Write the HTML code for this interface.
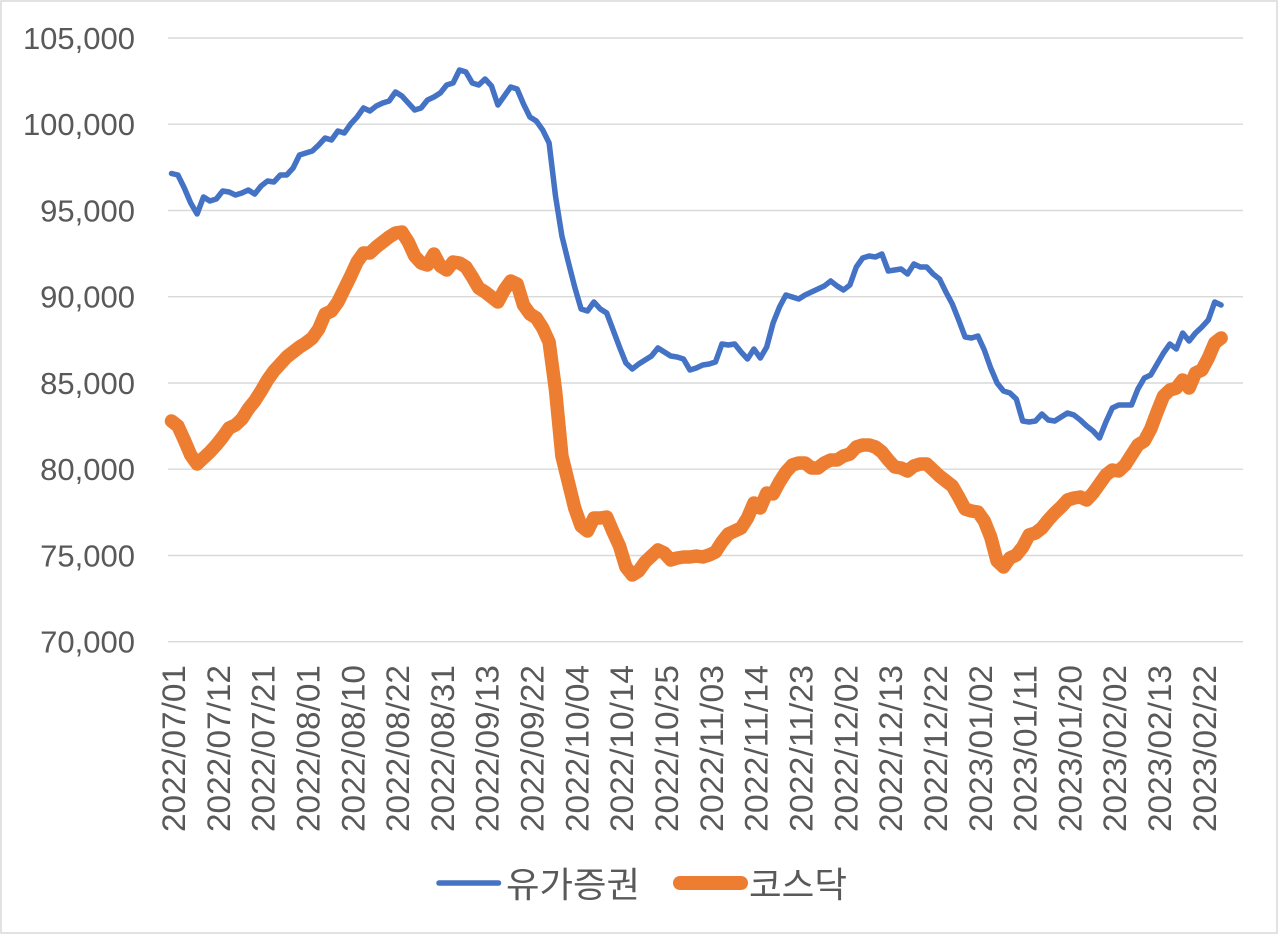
<!DOCTYPE html>
<html><head><meta charset="utf-8"><style>
html,body{margin:0;padding:0;background:#fff;}
svg{display:block;}
</style></head><body>
<svg width="1280" height="935" viewBox="0 0 1280 935" xmlns="http://www.w3.org/2000/svg">
<rect x="0" y="0" width="1280" height="935" fill="#fff"/>
<rect x="1" y="1" width="1276" height="932" fill="none" stroke="#d9d9d9" stroke-width="1.5"/>
<g stroke="#d9d9d9" stroke-width="1.4">
<line x1="168" x2="1243" y1="38" y2="38"/>
<line x1="168" x2="1243" y1="124.2" y2="124.2"/>
<line x1="168" x2="1243" y1="210.5" y2="210.5"/>
<line x1="168" x2="1243" y1="296.7" y2="296.7"/>
<line x1="168" x2="1243" y1="383" y2="383"/>
<line x1="168" x2="1243" y1="469.2" y2="469.2"/>
<line x1="168" x2="1243" y1="555.5" y2="555.5"/>
<line x1="168" x2="1243" y1="641.7" y2="641.7"/>
</g>
<g font-family="Liberation Sans, sans-serif" font-size="31" fill="#595959" text-anchor="end">
<text x="135" y="48.8">105,000</text>
<text x="135" y="135">100,000</text>
<text x="135" y="221.3">95,000</text>
<text x="135" y="307.5">90,000</text>
<text x="135" y="393.8">85,000</text>
<text x="135" y="480">80,000</text>
<text x="135" y="566.3">75,000</text>
<text x="135" y="652.5">70,000</text>
</g>
<g font-family="Liberation Sans, sans-serif" font-size="32.5" fill="#595959">
<text transform="translate(185,832) rotate(-90)" textLength="167" lengthAdjust="spacingAndGlyphs">2022/07/01</text>
<text transform="translate(229.8,832) rotate(-90)" textLength="167" lengthAdjust="spacingAndGlyphs">2022/07/12</text>
<text transform="translate(274.6,832) rotate(-90)" textLength="167" lengthAdjust="spacingAndGlyphs">2022/07/21</text>
<text transform="translate(319.5,832) rotate(-90)" textLength="167" lengthAdjust="spacingAndGlyphs">2022/08/01</text>
<text transform="translate(364.3,832) rotate(-90)" textLength="167" lengthAdjust="spacingAndGlyphs">2022/08/10</text>
<text transform="translate(409.1,832) rotate(-90)" textLength="167" lengthAdjust="spacingAndGlyphs">2022/08/22</text>
<text transform="translate(453.9,832) rotate(-90)" textLength="167" lengthAdjust="spacingAndGlyphs">2022/08/31</text>
<text transform="translate(498.7,832) rotate(-90)" textLength="167" lengthAdjust="spacingAndGlyphs">2022/09/13</text>
<text transform="translate(543.6,832) rotate(-90)" textLength="167" lengthAdjust="spacingAndGlyphs">2022/09/22</text>
<text transform="translate(588.4,832) rotate(-90)" textLength="167" lengthAdjust="spacingAndGlyphs">2022/10/04</text>
<text transform="translate(633.2,832) rotate(-90)" textLength="167" lengthAdjust="spacingAndGlyphs">2022/10/14</text>
<text transform="translate(678,832) rotate(-90)" textLength="167" lengthAdjust="spacingAndGlyphs">2022/10/25</text>
<text transform="translate(722.8,832) rotate(-90)" textLength="167" lengthAdjust="spacingAndGlyphs">2022/11/03</text>
<text transform="translate(767.7,832) rotate(-90)" textLength="167" lengthAdjust="spacingAndGlyphs">2022/11/14</text>
<text transform="translate(812.5,832) rotate(-90)" textLength="167" lengthAdjust="spacingAndGlyphs">2022/11/23</text>
<text transform="translate(857.3,832) rotate(-90)" textLength="167" lengthAdjust="spacingAndGlyphs">2022/12/02</text>
<text transform="translate(902.1,832) rotate(-90)" textLength="167" lengthAdjust="spacingAndGlyphs">2022/12/13</text>
<text transform="translate(946.9,832) rotate(-90)" textLength="167" lengthAdjust="spacingAndGlyphs">2022/12/22</text>
<text transform="translate(991.8,832) rotate(-90)" textLength="167" lengthAdjust="spacingAndGlyphs">2023/01/02</text>
<text transform="translate(1036.6,832) rotate(-90)" textLength="167" lengthAdjust="spacingAndGlyphs">2023/01/11</text>
<text transform="translate(1081.4,832) rotate(-90)" textLength="167" lengthAdjust="spacingAndGlyphs">2023/01/20</text>
<text transform="translate(1126.2,832) rotate(-90)" textLength="167" lengthAdjust="spacingAndGlyphs">2023/02/02</text>
<text transform="translate(1171,832) rotate(-90)" textLength="167" lengthAdjust="spacingAndGlyphs">2023/02/13</text>
<text transform="translate(1215.9,832) rotate(-90)" textLength="167" lengthAdjust="spacingAndGlyphs">2023/02/22</text>
</g>
<g transform="translate(171.5,0) scale(6.4,1)">
<polyline fill="none" stroke="#4472c4" stroke-width="5.5" stroke-linejoin="round" stroke-linecap="round" vector-effect="non-scaling-stroke" points="0,173.5 1,175 2,188 3,203 4,214 5,197 6,201 7,199 8,191 9,192 10,195 11,193 12,190 13,194 14,186 15,181 16,182 17,175 18,175 19,168 20,155 21,153 22,151 23,145 24,138 25,140 26,131 27,133 28,124 29,117 30,108 31,111 32,106 33,103 34,101 35,92 36,96 37,103 38,110 39,108 40,100 41,97 42,93 43,85 44,83 45,70 46,72 47,83 48,85 49,79 50,86 51,105 52,96 53,87 54,89 55,104 56,117 57,121 58,130 59,143 60,196 61,236 62,262 63,287 64,309 65,311 66,302 67,309 68,313 69,330 70,347 71,363 72,369 73,364 74,360 75,356 76,348 77,352 78,356 79,357 80,359 81,370 82,368 83,365 84,364 85,362 86,344 87,345 88,344 89,352 90,359 91,349 92,358 93,347 94,323 95,307 96,295 97,297 98,299 99,295 100,292 101,289 102,286 103,281 104,286 105,290 106,285 107,267 108,258 109,256 110,257 111,254 112,271 113,270 114,269 115,274 116,264 117,267 118,267 119,274 120,279 121,292 122,304 123,320 124,337 125,338 126,336 127,350 128,368 129,383 130,391 131,393 132,399 133,421 134,422 135,421 136,414 137,420 138,421 139,417 140,413 141,415 142,420 143,426 144,431 145,438 146,422 147,408 148,405 149,405 150,405 151,389 152,378 153,375 154,364 155,353 156,344 157,349 158,333 159,341 160,333 161,327 162,320 163,302 164,305"/>
<polyline fill="none" stroke="#ed7d31" stroke-width="13.5" stroke-linejoin="round" stroke-linecap="round" vector-effect="non-scaling-stroke" points="0,421 1,426 2,440 3,455 4,464 5,458 6,452 7,445 8,437 9,428 10,425 11,419 12,409 13,401 14,391 15,380 16,371 17,364 18,357 19,352 20,347 21,343 22,338 23,329 24,314 25,311 26,302 27,289 28,276 29,262 30,253 31,253 32,247 33,242 34,237 35,233 36,232 37,242 38,256 39,263 40,265 41,254 42,266 43,270 44,262 45,263 46,267 47,277 48,288 49,292 50,297 51,302 52,290 53,281 54,284 55,305 56,314 57,318 58,328 59,342 60,390 61,456 62,482 63,508 64,526 65,531 66,518 67,518 68,517 69,532 70,546 71,567 72,575 73,571 74,562 75,556 76,550 77,553 78,560 79,558 80,557 81,557 82,556 83,557 84,555 85,552 86,542 87,534 88,531 89,528 90,518 91,503 92,508 93,493 94,494 95,482 96,472 97,465 98,463 99,463 100,468 101,468 102,463 103,460 104,460 105,456 106,454 107,447 108,445 109,445 110,447 111,452 112,460 113,467 114,468 115,471 116,466 117,464 118,464 119,470 120,476 121,481 122,486 123,497 124,509 125,511 126,512 127,521 128,537 129,561 130,567 131,558 132,555 133,547 134,535 135,533 136,528 137,520 138,513 139,507 140,500 141,498 142,497 143,500 144,493 145,484 146,475 147,470 148,471 149,465 150,455 151,445 152,441 153,429 154,412 155,396 156,390 157,388 158,380 159,388 160,373 161,370 162,358 163,343 164,338"/>
</g>
<line x1="439" y1="883" x2="498.5" y2="883" stroke="#4472c4" stroke-width="5.5" stroke-linecap="round"/>
<line x1="680" y1="883" x2="741" y2="883" stroke="#ed7d31" stroke-width="14" stroke-linecap="round"/>
<g font-family="Liberation Sans, 'Noto Sans CJK KR', sans-serif" font-size="35.5" fill="#595959">
<text x="506" y="897" textLength="134" lengthAdjust="spacingAndGlyphs">유가증권</text>
<text x="749" y="897" textLength="98" lengthAdjust="spacingAndGlyphs">코스닥</text>
</g>
</svg>
</body></html>
